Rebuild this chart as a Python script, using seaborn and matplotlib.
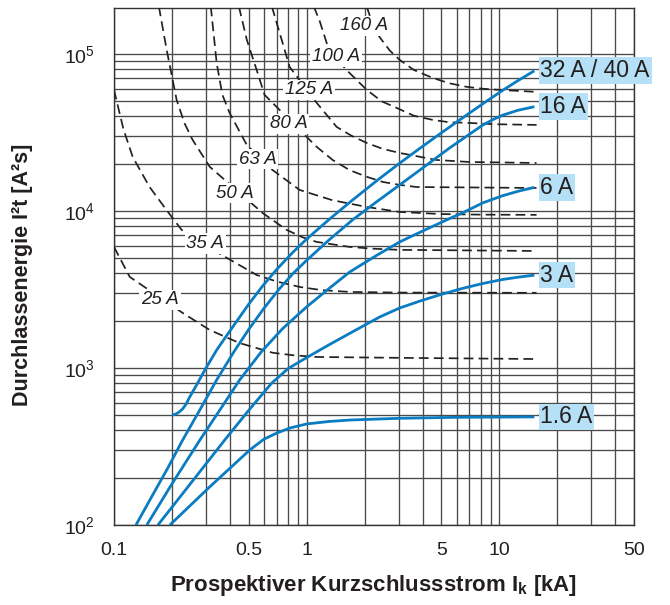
import matplotlib
matplotlib.use("Agg")
import matplotlib.pyplot as plt
from matplotlib import font_manager
import seaborn as sns
import pandas as pd

# ---------------- data ----------------
mcb_labels = ["32 A / 40 A", "16 A", "6 A", "3 A", "1.6 A"]

ik_32 = [0.2, 0.207, 0.214, 0.22, 0.227, 0.237, 0.247, 0.27, 0.296, 0.341, 0.39, 0.438,
         0.5, 0.59, 0.7, 0.85, 1.0, 1.3, 1.7, 2.31, 3.04, 4.0, 5.0, 6.0, 8.0, 10.4, 12.5, 15.2]
e_32 = [500, 506, 516, 530, 548, 590, 653, 790, 970, 1300, 1650, 2020,
        2545, 3320, 4250, 5470, 6620, 8770, 11530, 15570, 20150, 25800, 31400, 36800,
        47100, 58600, 67600, 78100]

ik_16 = [0.13, 0.16, 0.19, 0.227, 0.28, 0.341, 0.42, 0.5, 0.6, 0.72, 0.85, 1.0, 1.3,
         1.73, 2.3, 3.04, 4.0, 5.5, 7.0, 8.2, 9.3, 10.4, 12.5, 15.2]
e_16 = [100, 158, 230, 347, 545, 839, 1273, 1758, 2397, 3180, 4000, 4850, 6500,
        8770, 11400, 14650, 18770, 25100, 30800, 35200, 38250, 40700, 43750, 46100]

ik_6 = [0.148, 0.2, 0.278, 0.36, 0.449, 0.58, 0.75, 1.0, 1.3, 1.67, 2.3, 3.04, 4.0,
        5.33, 6.7, 8.2, 10.4, 12.5, 15.2]
e_6 = [100, 183, 345, 556, 839, 1262, 1780, 2450, 3190, 4080, 5200, 6350, 7450,
       8770, 9950, 11250, 12500, 13340, 14130]

ik_3 = [0.169, 0.25, 0.375, 0.5, 0.658, 0.8, 0.953, 1.3, 1.8, 2.39, 3.04, 3.9, 4.9,
        6.4, 8.2, 10.4, 12.5, 15.2]
e_3 = [100, 184, 347, 537, 800, 990, 1125, 1400, 1745, 2110, 2410, 2675, 2920,
       3205, 3450, 3660, 3785, 3900]

ik_1p6 = [0.195, 0.314, 0.506, 0.6, 0.70, 0.82, 1.0, 1.3, 1.67, 3.0, 6.0, 15.2]
e_1p6 = [100, 175, 300, 352, 385, 415, 440, 456, 466, 478, 485, 488]

fuse_labels = ["160 A", "100 A", "125 A", "80 A", "63 A", "50 A", "35 A", "25 A"]

ik_f160 = [2.05, 2.2, 2.39, 2.7, 3.04, 3.6, 4.51, 5.5, 6.77, 8.2, 10.0, 15.6]
e_f160 = [200000, 155000, 128000, 105000, 91600, 79000, 70300, 65000, 61700, 60000,
          59000, 57300]

ik_f100 = [1.09, 1.17, 1.27, 1.42, 1.61, 2.05, 2.45, 2.93, 3.6, 4.51, 5.5, 6.77, 9.5, 15.6]
e_f100 = [200000, 161000, 117500, 94000, 79000, 59000, 49900, 45300, 40400, 38000,
          36700, 36400, 35650, 35300]

ik_f125 = [0.66, 0.724, 0.816, 1.127, 1.43, 1.713, 2.05, 2.48, 3.04, 4.73, 7.0, 15.6]
e_f125 = [200000, 136000, 82600, 48800, 34300, 30060, 27100, 24850, 23400, 21100,
          20500, 20200]

ik_f80 = [0.445, 0.489, 0.55, 0.605, 1.0, 1.127, 1.365, 1.67, 2.05, 2.48, 3.04, 3.72, 15.6]
e_f80 = [200000, 123000, 79000, 54800, 29600, 25600, 21100, 18200, 16500, 15300,
         14650, 14200, 14000]

ik_f63 = [0.318, 0.341, 0.365, 0.398, 0.489, 0.666, 0.92, 1.36, 2.05, 3.04, 5.0, 8.0, 15.6]
e_f63 = [200000, 87700, 55000, 42100, 26300, 18200, 13600, 11700, 10600, 9850, 9550,
         9470, 9440]

ik_f50 = [0.171, 0.1877, 0.2114, 0.232, 0.256, 0.314, 0.591, 0.788, 0.95, 1.127, 1.67,
          2.2, 3.04, 15.6]
e_f50 = [200000, 106000, 50900, 36300, 28300, 19100, 9700, 7570, 6800, 6350, 5900,
         5750, 5650, 5560]

ik_f35 = [0.1, 0.112, 0.125, 0.153, 0.1877, 0.2245, 0.362, 0.55, 0.7, 0.92, 1.2, 1.67,
          3.0, 15.6]
e_f35 = [59000, 33100, 22100, 14200, 10100, 7570, 5250, 3910, 3550, 3280, 3130, 3050,
         3020, 3010]

ik_f25 = [0.1, 0.1207, 0.2273, 0.314, 0.449, 0.666, 0.85, 1.127, 3.04, 15.6]
e_f25 = [5900, 3800, 2240, 1745, 1440, 1250, 1205, 1175, 1160, 1140]

# label anchors for the fuse curves (ik, energy)
fuse_label_ik = [1.976, 1.414, 1.024, 0.807, 0.557, 0.422, 0.298, 0.173]
fuse_label_e = [150700, 95700, 59000, 35800, 21400, 13000, 6170, 2710]

x_ticks = [0.1, 0.5, 1, 5, 10, 50]
x_ticklabels = ["0.1", "0.5", "1", "5", "10", "50"]
y_ticks = [1e2, 1e3, 1e4, 1e5]
y_ticklabels = [r"$10^{2}$", r"$10^{3}$", r"$10^{4}$", r"$10^{5}$"]

# ---------------- styling ----------------
sns.set_theme(style="white")
plt.rcParams["font.family"] = ["Liberation Sans", "DejaVu Sans"]
plt.rcParams["mathtext.fontset"] = "custom"
plt.rcParams["mathtext.rm"] = "Liberation Sans"
plt.rcParams["mathtext.it"] = "Liberation Sans:italic"
plt.rcParams["mathtext.bf"] = "Liberation Sans:bold"
plt.rcParams["mathtext.default"] = "regular"

installed = {f.name for f in font_manager.fontManager.ttflist}
if "Liberation Sans Narrow" in installed:
    fuse_font, fuse_size = ["Liberation Sans Narrow", "Liberation Sans"], 15
else:
    fuse_font, fuse_size = ["Liberation Sans", "DejaVu Sans"], 13.5

TXT = "#231f20"
BLUE = "#0a7cc2"
GRID = "#4a4a4a"

fig = plt.figure(figsize=(6.7, 6.05), dpi=100)
ax = fig.add_axes([114 / 670, 1 - 525 / 605, 520 / 670, 517 / 605])
ax.set_xscale("log")
ax.set_yscale("log")

mcb_series = [(ik_32, e_32), (ik_16, e_16), (ik_6, e_6), (ik_3, e_3), (ik_1p6, e_1p6)]
fuse_series = [(ik_f160, e_f160), (ik_f100, e_f100), (ik_f125, e_f125), (ik_f80, e_f80),
               (ik_f63, e_f63), (ik_f50, e_f50), (ik_f35, e_f35), (ik_f25, e_f25)]

for (xs, ys) in fuse_series:
    df = pd.DataFrame({"ik": xs, "e": ys})
    sns.lineplot(data=df, x="ik", y="e", ax=ax, color="#222222", lw=1.25,
                 linestyle=(0, (5.6, 3.0)), estimator=None, sort=False,
                 legend=False, zorder=3)

for (xs, ys) in mcb_series:
    df = pd.DataFrame({"ik": xs, "e": ys})
    sns.lineplot(data=df, x="ik", y="e", ax=ax, color=BLUE, lw=2.0,
                 estimator=None, sort=False, legend=False, zorder=5,
                 solid_capstyle="butt", solid_joinstyle="round")

ax.set_xlim(0.1, 50)
ax.set_ylim(100, 196000)

# ticks and grid
x_minor = [m * 10.0 ** k for k in (-1, 0, 1) for m in range(1, 10)
           if m * 10.0 ** k < 50 and round(m * 10.0 ** k, 6) not in x_ticks]
y_minor = [m * 10.0 ** k for k in (2, 3, 4) for m in range(2, 10)]
ax.set_xticks(x_ticks, labels=x_ticklabels)
ax.set_xticks(x_minor, minor=True)
ax.set_yticks(y_ticks, labels=y_ticklabels)
ax.set_yticks(y_minor, minor=True)
ax.xaxis.set_minor_formatter(matplotlib.ticker.NullFormatter())
ax.yaxis.set_minor_formatter(matplotlib.ticker.NullFormatter())
ax.grid(True, which="both", color=GRID, lw=0.95)
ax.set_axisbelow(True)
ax.tick_params(which="minor", length=0)
ax.tick_params(axis="x", which="major", length=7, width=1, direction="out",
               color="#333333", labelsize=14, labelcolor=TXT, pad=5)
ax.tick_params(axis="y", which="major", length=8, width=1, direction="out",
               color="#333333", labelsize=14, labelcolor=TXT, pad=6)
for sp in ax.spines.values():
    sp.set_color("#333333")
    sp.set_linewidth(1.0)

# axis labels
ax.set_xlabel(r"Prospektiver Kurzschlussstrom I$_{\mathbf{k}}$ [kA]",
              fontsize=16, fontweight="bold", color=TXT)
ax.xaxis.set_label_coords(0.5, -0.093)
ax.set_ylabel("Durchlassenergie I²t [A²s]", fontsize=15.5, fontweight="bold", color=TXT)
ax.yaxis.set_label_coords(-0.155, 0.483)

# fuse curve labels (white boxes)
for lab, lx, ly in zip(fuse_labels, fuse_label_ik, fuse_label_e):
    ax.text(lx, ly, lab, style="italic", ha="center", va="center", fontsize=fuse_size,
            family=fuse_font, color=TXT, zorder=4,
            bbox=dict(boxstyle="square,pad=0.1", fc="white", ec="none"))

# MCB curve labels (light blue boxes) at curve ends
for lab, (xs, ys) in zip(mcb_labels, mcb_series):
    ax.annotate(lab, xy=(xs[-1], ys[-1]), xytext=(6, 0), textcoords="offset pixels",
                ha="left", va="center", fontsize=16.5, color=TXT, zorder=6,
                annotation_clip=False,
                bbox=dict(boxstyle="square,pad=0.08", fc="#b5e0f5", ec="none"))

fig.savefig("out.png", dpi=100)
